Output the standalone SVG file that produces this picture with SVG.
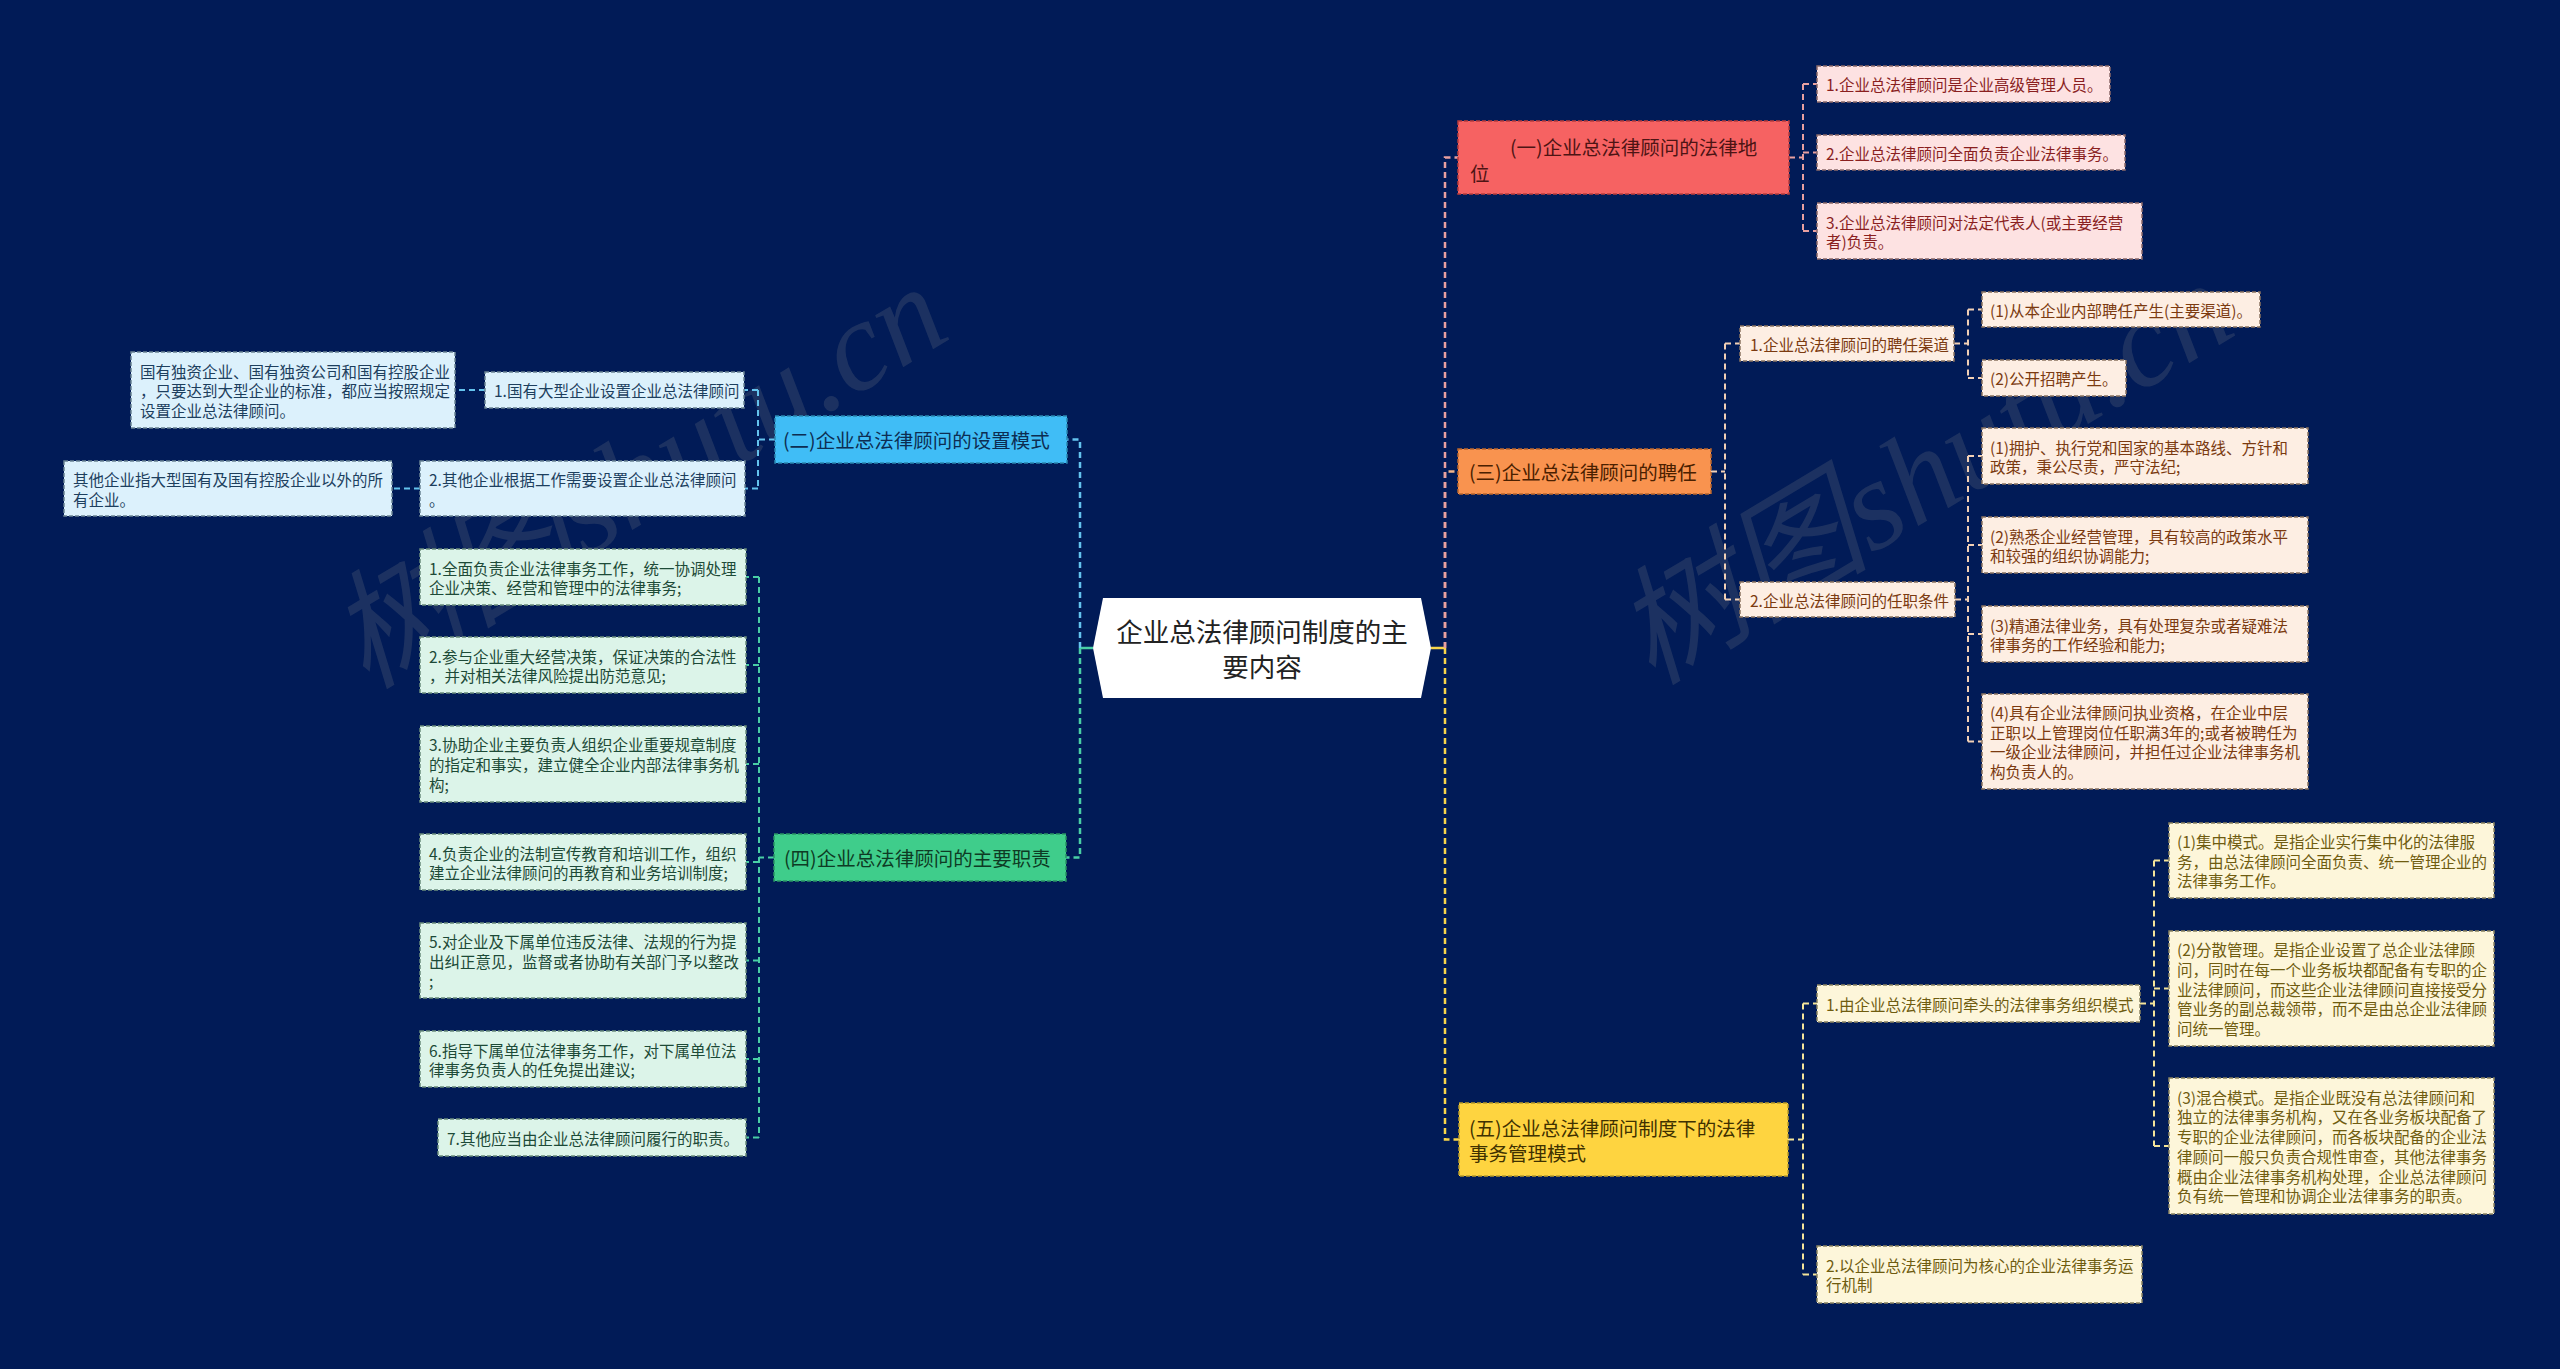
<svg xmlns="http://www.w3.org/2000/svg" width="2560" height="1369" viewBox="0 0 2560 1369">
<style>
text{font-family:"Noto Sans CJK SC","Liberation Sans",sans-serif;dominant-baseline:central}
.m{font-size:19.5px}
.l{font-size:15.5px}
.nb{stroke-width:1.5;stroke-dasharray:4 2}
.c{fill:none;stroke-width:2;stroke-dasharray:6 4}
.t{fill:none;stroke-width:2.5;stroke-dasharray:6 4}
.wm{font-family:"Liberation Serif","Noto Sans CJK SC",serif;font-style:italic;font-size:128px;fill:#8a8a8a;fill-opacity:0.2;dominant-baseline:auto}
.pM{fill:#f66262;stroke:#b83c3c}.pT{fill:#4d1414}.pL{fill:#fde2e2;stroke:#8a6a6a}.pLT{fill:#8a1f1f}
.oM{fill:#f9934f;stroke:#b8652e}.oT{fill:#4a2000}.oL{fill:#fdeee3;stroke:#8a7462}.oLT{fill:#7b3a10}
.yM{fill:#fed440;stroke:#b89a2a}.yT{fill:#3f3100}.yL{fill:#fdf6da;stroke:#8a8462}.yLT{fill:#6f5c10}
.bM{fill:#40bdf6;stroke:#2a86b0}.bT{fill:#0d2d52}.bL{fill:#dcf1fc;stroke:#6a8494}.bLT{fill:#1d3f5e}
.gM{fill:#3fcd8b;stroke:#2a9464}.gT{fill:#0e3b24}.gL{fill:#dcf4e9;stroke:#6a8c7c}.gLT{fill:#1d4a37}
</style>
<rect x="0" y="0" width="2560" height="1369" fill="#011b57"/>
<text class="wm" transform="translate(366,690) rotate(-31)">树图shutu.cn</text>
<text class="wm" transform="translate(1652,686) rotate(-31)">树图shutu.cn</text>

<g id="connectors">
<path d="M1093 648 H1080" stroke="#49cfa5" stroke-width="2.5" fill="none"/>
<path class="t" stroke="#64c3ee" d="M1080 648 V439.5 H1067"/>
<path class="t" stroke="#49cfa5" d="M1080 648 V857.5 H1066"/>
<path d="M1431 648 H1445" stroke="#f7d54a" stroke-width="2.5" fill="none"/>
<path class="t" stroke="#f2b58a" d="M1445 648 V471.5 H1458"/>
<path class="t" stroke="#e8a0a0" d="M1445 648 V157.5 H1458"/>
<path class="t" stroke="#f7d54a" d="M1445 648 V1139.5 H1459"/>
<path class="c" stroke="#e8a0a0" d="M1789 157.5 H1803 M1803 84 V231 M1803 84 H1817 M1803 152.5 H1817 M1803 231 H1817"/>
<path class="c" stroke="#f2d0b5" d="M1711 471.5 H1725 M1725 343.5 V599.5 M1725 343.5 H1740 M1725 599.5 H1740"/>
<path class="c" stroke="#f2d0b5" d="M1954 343.5 H1968 M1968 309.5 V378 M1968 309.5 H1982 M1968 378 H1982"/>
<path class="c" stroke="#f2d0b5" d="M1955 599.5 H1968 M1968 456 V741.5 M1968 456 H1982 M1968 545 H1982 M1968 634 H1982 M1968 741.5 H1982"/>
<path class="c" stroke="#f4e49a" d="M1788 1139.5 H1803 M1803 1003.5 V1274.5 M1803 1003.5 H1817 M1803 1274.5 H1817"/>
<path class="c" stroke="#f4e49a" d="M2140 1003.5 H2154 M2154 860.5 V1146 M2154 860.5 H2169 M2154 988.5 H2169 M2154 1146 H2169"/>
<path class="c" stroke="#64c3ee" d="M775 439.5 H758 M758 390 V488.5 M758 390 H744 M758 488.5 H745"/>
<path class="c" stroke="#64c3ee" d="M485 390 H455 M420 488.5 H392"/>
<path class="c" stroke="#49cfa5" d="M774 857.5 H759 M759 577 V1137.5 M759 577 H746 M759 665 H746 M759 764 H746 M759 862 H746 M759 960.5 H746 M759 1059 H746 M759 1137.5 H746"/>
</g>

<g id="root">
<polygon points="1103,598 1421,598 1431,648 1421,698 1103,698 1093,648" fill="#ffffff"/>
<text x="1262" y="630" font-size="26.5" fill="#222" text-anchor="middle">企业总法律顾问制度的主</text>
<text x="1262" y="665" font-size="26.5" fill="#222" text-anchor="middle">要内容</text>
</g>

<g id="n1">
<rect class="nb pM" x="1458" y="121" width="331" height="73"/>
<text class="m pT" x="1510" y="146">(一)企业总法律顾问的法律地</text>
<text class="m pT" x="1470" y="172">位</text>
</g>
<g id="n1-1"><rect class="nb pL" x="1817" y="66" width="293" height="36"/><text class="l pLT" x="1826" y="84">1.企业总法律顾问是企业高级管理人员。</text></g>
<g id="n1-2"><rect class="nb pL" x="1817" y="135" width="308" height="35"/><text class="l pLT" x="1826" y="152.5">2.企业总法律顾问全面负责企业法律事务。</text></g>
<g id="n1-3"><rect class="nb pL" x="1817" y="203" width="325" height="56"/><text class="l pLT" x="1826" y="221.5">3.企业总法律顾问对法定代表人(或主要经营</text><text class="l pLT" x="1826" y="241">者)负责。</text></g>

<g id="n3">
<rect class="nb oM" x="1458" y="449" width="253" height="45"/>
<text class="m oT" x="1469" y="471.5">(三)企业总法律顾问的聘任</text>
</g>
<g id="n3-1"><rect class="nb oL" x="1740" y="326" width="214" height="35"/><text class="l oLT" x="1750" y="343.5">1.企业总法律顾问的聘任渠道</text></g>
<g id="n3-1-1"><rect class="nb oL" x="1982" y="292" width="278" height="35"/><text class="l oLT" x="1990" y="309.5">(1)从本企业内部聘任产生(主要渠道)。</text></g>
<g id="n3-1-2"><rect class="nb oL" x="1982" y="360" width="144" height="36"/><text class="l oLT" x="1990" y="378">(2)公开招聘产生。</text></g>
<g id="n3-2"><rect class="nb oL" x="1740" y="582" width="215" height="35"/><text class="l oLT" x="1750" y="599.5">2.企业总法律顾问的任职条件</text></g>
<g id="n3-2-1"><rect class="nb oL" x="1982" y="428" width="326" height="56"/><text class="l oLT" x="1990" y="446.5">(1)拥护、执行党和国家的基本路线、方针和</text><text class="l oLT" x="1990" y="466">政策，秉公尽责，严守法纪;</text></g>
<g id="n3-2-2"><rect class="nb oL" x="1982" y="517" width="326" height="56"/><text class="l oLT" x="1990" y="535.5">(2)熟悉企业经营管理，具有较高的政策水平</text><text class="l oLT" x="1990" y="555">和较强的组织协调能力;</text></g>
<g id="n3-2-3"><rect class="nb oL" x="1982" y="606" width="326" height="56"/><text class="l oLT" x="1990" y="624.5">(3)精通法律业务，具有处理复杂或者疑难法</text><text class="l oLT" x="1990" y="644">律事务的工作经验和能力;</text></g>
<g id="n3-2-4"><rect class="nb oL" x="1982" y="694" width="326" height="95"/><text class="l oLT" x="1990" y="712">(4)具有企业法律顾问执业资格，在企业中层</text><text class="l oLT" x="1990" y="731.7">正职以上管理岗位任职满3年的;或者被聘任为</text><text class="l oLT" x="1990" y="751.4">一级企业法律顾问，并担任过企业法律事务机</text><text class="l oLT" x="1990" y="771">构负责人的。</text></g>

<g id="n5">
<rect class="nb yM" x="1459" y="1103" width="329" height="73"/>
<text class="m yT" x="1469" y="1127">(五)企业总法律顾问制度下的法律</text>
<text class="m yT" x="1469" y="1152">事务管理模式</text>
</g>
<g id="n5-1"><rect class="nb yL" x="1817" y="985" width="323" height="37"/><text class="l yLT" x="1826" y="1003.5">1.由企业总法律顾问牵头的法律事务组织模式</text></g>
<g id="n5-1-1"><rect class="nb yL" x="2169" y="823" width="325" height="75"/><text class="l yLT" x="2177" y="841">(1)集中模式。是指企业实行集中化的法律服</text><text class="l yLT" x="2177" y="860.7">务，由总法律顾问全面负责、统一管理企业的</text><text class="l yLT" x="2177" y="880.4">法律事务工作。</text></g>
<g id="n5-1-2"><rect class="nb yL" x="2169" y="931" width="325" height="115"/><text class="l yLT" x="2177" y="949">(2)分散管理。是指企业设置了总企业法律顾</text><text class="l yLT" x="2177" y="968.8">问，同时在每一个业务板块都配备有专职的企</text><text class="l yLT" x="2177" y="988.5">业法律顾问，而这些企业法律顾问直接接受分</text><text class="l yLT" x="2177" y="1008.2">管业务的副总裁领带，而不是由总企业法律顾</text><text class="l yLT" x="2177" y="1028">问统一管理。</text></g>
<g id="n5-1-3"><rect class="nb yL" x="2169" y="1078" width="325" height="136"/><text class="l yLT" x="2177" y="1096.7">(3)混合模式。是指企业既没有总法律顾问和</text><text class="l yLT" x="2177" y="1116.4">独立的法律事务机构，又在各业务板块配备了</text><text class="l yLT" x="2177" y="1136.1">专职的企业法律顾问，而各板块配备的企业法</text><text class="l yLT" x="2177" y="1155.8">律顾问一般只负责合规性审查，其他法律事务</text><text class="l yLT" x="2177" y="1175.5">概由企业法律事务机构处理，企业总法律顾问</text><text class="l yLT" x="2177" y="1195.2">负有统一管理和协调企业法律事务的职责。</text></g>
<g id="n5-2"><rect class="nb yL" x="1817" y="1246" width="325" height="57"/><text class="l yLT" x="1826" y="1264.7">2.以企业总法律顾问为核心的企业法律事务运</text><text class="l yLT" x="1826" y="1284.4">行机制</text></g>

<g id="n2">
<rect class="nb bM" x="775" y="416" width="292" height="47"/>
<text class="m bT" x="783" y="439.5">(二)企业总法律顾问的设置模式</text>
</g>
<g id="n2-1"><rect class="nb bL" x="485" y="372" width="259" height="36"/><text class="l bLT" x="494" y="390">1.国有大型企业设置企业总法律顾问</text></g>
<g id="n2-1-1"><rect class="nb bL" x="131" y="352" width="324" height="76"/><text class="l bLT" x="140" y="370.5">国有独资企业、国有独资公司和国有控股企业</text><text class="l bLT" x="140" y="390.2">，只要达到大型企业的标准，都应当按照规定</text><text class="l bLT" x="140" y="410">设置企业总法律顾问。</text></g>
<g id="n2-2"><rect class="nb bL" x="420" y="461" width="325" height="55"/><text class="l bLT" x="429" y="479">2.其他企业根据工作需要设置企业总法律顾问</text><text class="l bLT" x="429" y="498.7">。</text></g>
<g id="n2-2-1"><rect class="nb bL" x="64" y="461" width="328" height="55"/><text class="l bLT" x="73" y="479">其他企业指大型国有及国有控股企业以外的所</text><text class="l bLT" x="73" y="498.7">有企业。</text></g>

<g id="n4">
<rect class="nb gM" x="774" y="834" width="292" height="47"/>
<text class="m gT" x="784" y="857.5">(四)企业总法律顾问的主要职责</text>
</g>
<g id="n4-1"><rect class="nb gL" x="420" y="549" width="326" height="56"/><text class="l gLT" x="429" y="567.5">1.全面负责企业法律事务工作，统一协调处理</text><text class="l gLT" x="429" y="587">企业决策、经营和管理中的法律事务;</text></g>
<g id="n4-2"><rect class="nb gL" x="420" y="637" width="326" height="56"/><text class="l gLT" x="429" y="655.5">2.参与企业重大经营决策，保证决策的合法性</text><text class="l gLT" x="429" y="675">，并对相关法律风险提出防范意见;</text></g>
<g id="n4-3"><rect class="nb gL" x="420" y="726" width="326" height="76"/><text class="l gLT" x="429" y="744.3">3.协助企业主要负责人组织企业重要规章制度</text><text class="l gLT" x="429" y="764">的指定和事实，建立健全企业内部法律事务机</text><text class="l gLT" x="429" y="783.7">构;</text></g>
<g id="n4-4"><rect class="nb gL" x="420" y="834" width="326" height="56"/><text class="l gLT" x="429" y="852.5">4.负责企业的法制宣传教育和培训工作，组织</text><text class="l gLT" x="429" y="872">建立企业法律顾问的再教育和业务培训制度;</text></g>
<g id="n4-5"><rect class="nb gL" x="420" y="923" width="326" height="75"/><text class="l gLT" x="429" y="941">5.对企业及下属单位违反法律、法规的行为提</text><text class="l gLT" x="429" y="960.7">出纠正意见，监督或者协助有关部门予以整改</text><text class="l gLT" x="429" y="980.4">;</text></g>
<g id="n4-6"><rect class="nb gL" x="420" y="1031" width="326" height="56"/><text class="l gLT" x="429" y="1049.5">6.指导下属单位法律事务工作，对下属单位法</text><text class="l gLT" x="429" y="1069">律事务负责人的任免提出建议;</text></g>
<g id="n4-7"><rect class="nb gL" x="438" y="1119" width="308" height="37"/><text class="l gLT" x="447" y="1137.5">7.其他应当由企业总法律顾问履行的职责。</text></g>
</svg>
